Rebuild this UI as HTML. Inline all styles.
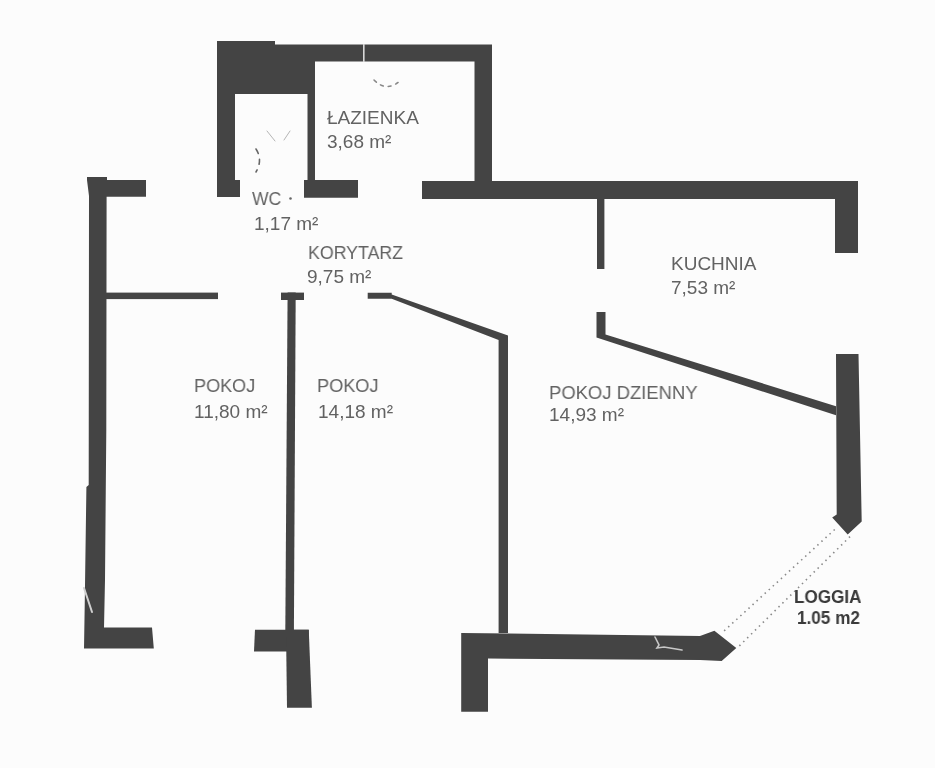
<!DOCTYPE html>
<html><head><meta charset="utf-8">
<style>
html,body{margin:0;padding:0;background:#fcfcfc;}
body{width:935px;height:768px;overflow:hidden;position:relative;}
svg{position:absolute;left:0;top:0;}
.t{position:absolute;font-family:"Liberation Sans",sans-serif;color:#626262;white-space:nowrap;line-height:1;transform-origin:0 0;will-change:transform;}
</style></head><body>
<svg width="935" height="768" viewBox="0 0 935 768">
<g fill="#444444">
<!-- upper block -->
<polygon points="217,41 275,41 275,44.5 492,44.5 492,181 474.5,181 474.5,61.5 315,61.5 315,180 304,180 304,197.5 358,197.5 358,180 307.5,180 307.5,94 235,94 235,180 240,180 240,197 217,197"/>
<rect x="304" y="180" width="54" height="17.5"/>
<rect x="422" y="181" width="436" height="18"/>
<rect x="835" y="181" width="23" height="72"/>
<!-- left -->
<polygon points="87,177 107,177 107,180 146,180 146,196.7 106.6,196.7 106.3,430 105,580 104,627.4 152,627.4 153.8,648.5 84,648.5 84.8,600 86.4,487 88.7,485 89,196 87,180"/>
<rect x="106" y="292.6" width="112" height="6.5"/>
<!-- middle T -->
<rect x="281" y="292.6" width="23" height="7.4"/>
<polygon points="287.6,292.6 295.7,292.6 293.9,632 285.3,632"/>
<polygon points="255,629.7 308.75,629.7 308.75,651.6 254,651.6 254.5,640"/>
<polygon points="286,629.7 308.75,629.7 311.9,707.8 287,707.8"/>
<!-- korytarz diagonal -->
<polygon points="367.7,292.8 391.7,292.8 391.7,294.5 508,335.6 508,633 498.6,633 498.6,339.9 391.7,298.8 367.7,298.8"/>
<!-- kitchen -->
<rect x="597" y="199" width="7.4" height="70"/>
<polygon points="596.5,312 605.5,312 605.5,334.4 836,406.3 836,415.3 596.5,337.4"/>
<!-- right lower -->
<polygon points="836,354 858.5,354 861.7,521.5 847.7,534.5 832.2,517.5 836.7,514.5"/>
<!-- bottom -->
<polygon points="461.2,633 700,636 714.4,630.7 736.3,648 721.7,661 700,660 488,658.5 488,711.8 461.2,711.8"/>
</g>
<!-- loggia dotted lines -->
<g stroke="#8a8a8a" stroke-width="1.6" stroke-dasharray="1.5 4">
<line x1="834.7" y1="529.5" x2="723.75" y2="631.25"/>
<line x1="850" y1="536.6" x2="736.8" y2="648.4"/>
</g>
<!-- faint fixtures -->
<g fill="none" stroke-linecap="round">
<path d="M256,149 Q263,160 256,172" stroke="#666" stroke-width="1.6" stroke-dasharray="5 6"/>
<path d="M267,131 L275,141 M290,131 L284,140" stroke="#b5b5b5" stroke-width="1"/>
<path d="M374,80 Q387,93 401,80" stroke="#888" stroke-width="1.5" stroke-dasharray="3 5"/>
<path d="M655,637 L659,645 L657,648 L664,647 L682,650" stroke="#c8c8c8" stroke-width="1.6"/>
<path d="M84,588 L88,600 L92,612" stroke="#d0d0d0" stroke-width="2"/>
</g>
<rect x="363" y="44" width="1.6" height="18" fill="#d8d8d8"/>
<circle cx="290.5" cy="198.5" r="1.3" fill="#666"/>
</svg>
<div class="t" style="left:327px;top:108px;font-size:19px">ŁAZIENKA</div>
<div class="t" style="left:327px;top:132px;font-size:19px">3,68 m²</div>
<div class="t" style="left:252px;top:189px;font-size:19px;transform:scaleX(0.92)">WC</div>
<div class="t" style="left:254px;top:214px;font-size:19px">1,17 m²</div>
<div class="t" style="left:308px;top:243px;font-size:19px;transform:scaleX(0.935)">KORYTARZ</div>
<div class="t" style="left:307px;top:267px;font-size:19px">9,75 m²</div>
<div class="t" style="left:671px;top:254px;font-size:19px">KUCHNIA</div>
<div class="t" style="left:671px;top:278px;font-size:19px">7,53 m²</div>
<div class="t" style="left:194px;top:376px;font-size:19px;transform:scaleX(0.95)">POKOJ</div>
<div class="t" style="left:194px;top:402px;font-size:19px">11,80 m²</div>
<div class="t" style="left:317px;top:376px;font-size:19px;transform:scaleX(0.955)">POKOJ</div>
<div class="t" style="left:318px;top:402px;font-size:19px">14,18 m²</div>
<div class="t" style="left:549px;top:383px;font-size:19px;transform:scaleX(0.97)">POKOJ DZIENNY</div>
<div class="t" style="left:549px;top:405px;font-size:19px">14,93 m²</div>
<div class="t" style="left:794px;top:588px;font-size:18px;font-weight:bold;color:#3a3a3a;transform:scaleX(0.95)">LOGGIA</div>
<div class="t" style="left:796.5px;top:609.5px;font-size:17.5px;font-weight:bold;color:#3a3a3a;transform:scaleX(0.98)">1.05 m2</div>
</body></html>
